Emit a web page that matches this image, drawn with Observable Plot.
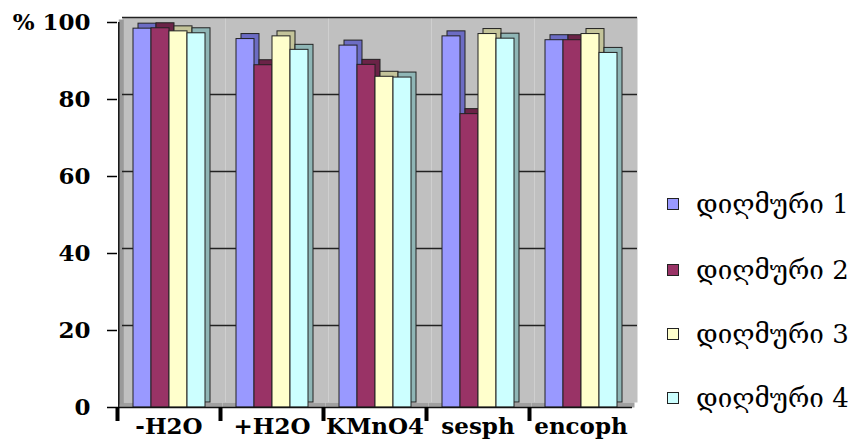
<!DOCTYPE html>
<html>
<head>
<meta charset="utf-8">
<script src="https://cdn.jsdelivr.net/npm/d3@7"></script>
<script src="https://cdn.jsdelivr.net/npm/@observablehq/plot@0.6"></script>
<style>
  body { margin: 0; background: #fff; }
  #wrap { position: relative; width: 864px; height: 441px; }
  #legend { position: absolute; left: 667px; top: 0; font-family: "DejaVu Serif", "DejaVu Sans", serif; font-size: 26px; color: #000; }
  .item { position: absolute; left: 0; display: flex; align-items: center; white-space: nowrap; }
  .sw { width: 10px; height: 10px; border: 1.5px solid #222; margin-right: 17px; }
</style>
</head>
<body>
<div id="wrap"><div id="chart"></div><div id="legend"></div></div>
<script>
const categories = ["-H2O", "+H2O", "KMnO4", "sesph", "encoph"];
const series = ["დიღმური 1", "დიღმური 2", "დიღმური 3", "დიღმური 4"];
const s1 = [98.4, 95.7, 94.0, 96.4, 95.4];
const s2 = [98.5, 88.9, 89.0, 76.2, 95.4];
const s3 = [97.7, 96.4, 85.9, 97.0, 97.0];
const s4 = [97.2, 92.9, 85.7, 95.8, 92.1];
const yTicks = [0, 20, 40, 60, 80, 100];
const fronts = ["#9999ff", "#993366", "#ffffcc", "#ccffff"];
const sides = ["#6c6cc4", "#6b2347", "#c4c49a", "#8fb6b6"];

const allValues = [s1, s2, s3, s4];
const data = [];
categories.forEach((c, i) => series.forEach((s, j) => data.push({cat: c, series: s, value: allValues[j][i]})));

const pOuter = 0.78;
const facetW = 103;
const step = facetW / (4 + 2 * pOuter);
const firstCenter = (facetW - 4 * step) / 2 + step / 2;

const chart = Plot.plot({
  width: 864,
  height: 441,
  marginLeft: 117,
  marginRight: 232,
  marginTop: 22,
  marginBottom: 34,
  style: {fontFamily: "DejaVu Serif", fontSize: "23px", fontWeight: "bold", background: "transparent", overflow: "visible"},
  fx: {domain: categories, padding: 0, label: null},
  x: {domain: series, axis: null, paddingInner: 0, paddingOuter: pOuter, align: 0.5},
  y: {domain: [0, 100], label: null},
  color: {domain: series, range: fronts},
  marks: [
    Plot.frame({fill: "#c0c0c0", stroke: null, dx: 5, dy: -5}),
    Plot.ruleY([0], {stroke: "#a0a0a0", strokeWidth: 5, dx: 2.5, dy: -2.5}),
    Plot.ruleX([categories[0]], {fx: d => d, x: () => series[0], y1: 0, y2: 100, dx: -firstCenter + 2.5, dy: -2.5, stroke: "#9a9a9a", strokeWidth: 5}),
    Plot.gridY({ticks: [20, 40, 60, 80, 100], dx: 5, dy: -5, stroke: "#222", strokeOpacity: 1, strokeWidth: 1.5}),
    Plot.barY(data, {fx: "cat", x: "series", y: "value", fill: d => sides[series.indexOf(d.series)], dx: 5, dy: -5, stroke: "#222", strokeWidth: 1}),
    Plot.barY(data, {fx: "cat", x: "series", y: "value", fill: "series", stroke: "#222", strokeWidth: 1}),
    Plot.ruleX([categories[0]], {fx: d => d, x: () => series[0], y1: 0, y2: 100, dx: -firstCenter, stroke: "#111", strokeWidth: 1.5}),
    Plot.ruleY([0], {stroke: "#111", strokeWidth: 1.5}),
    Plot.axisY({ticks: yTicks, tickSize: 10, tickPadding: 17, tickFormat: d => d === 100 ? "% 100" : String(d), label: null, strokeWidth: 1.5}),
    Plot.axisFx({anchor: "bottom", tickSize: 0, tickPadding: 10, label: null}),
    Plot.axisFx({anchor: "bottom", tickSize: 14, tickFormat: () => "", label: null, strokeWidth: 4, dx: -facetW / 2})
  ]
});
document.getElementById("chart").appendChild(chart);

const legendTops = [204, 270, 334, 398];
const legend = document.getElementById("legend");
series.forEach((s, i) => {
  const item = document.createElement("div");
  item.className = "item";
  item.style.top = (legendTops[i] - 16) + "px";
  item.style.height = "32px";
  const sw = document.createElement("div");
  sw.className = "sw";
  sw.style.background = fronts[i];
  const t = document.createElement("span");
  t.textContent = s;
  item.appendChild(sw);
  item.appendChild(t);
  legend.appendChild(item);
});
</script>
</body>
</html>
